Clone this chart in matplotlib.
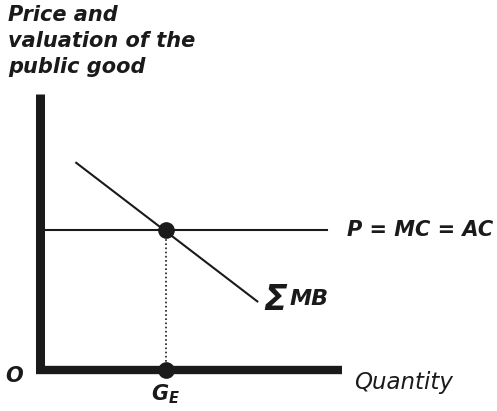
import matplotlib
matplotlib.use('Agg')
import matplotlib.pyplot as plt

plt.rcParams['mathtext.fontset'] = 'dejavusans'

# economic values (arbitrary units)
price = 5.0            # P = MC = AC
g_e = 4.0              # equilibrium quantity of public good
mb_x = [1.15, 6.9]     # sum of marginal benefits (demand)
mb_y = [7.4, 2.45]
price_line_end = 9.1
x_axis_end = 9.6
y_axis_end = 9.85

fig = plt.figure(figsize=(4.97, 4.11), dpi=100)
ax = fig.add_axes([0, 0, 1, 1])
ax.set_xlim(-1.27, 14.51)
ax.set_ylim(-1.464, 13.214)
ax.axis('off')

ink = '#1a1a1a'
fs = 15

# axes drawn as thick lines
ax.plot([0, 0], [0, y_axis_end], color=ink, lw=6.5, solid_capstyle='butt')
ax.plot([-0.14, x_axis_end], [0, 0], color=ink, lw=6.0, solid_capstyle='butt')

# price line and demand curve
ax.plot([0, price_line_end], [price, price], color=ink, lw=1.5)
ax.plot(mb_x, mb_y, color=ink, lw=1.5)

# dotted drop line and points
ax.plot([g_e, g_e], [0, price], color=ink, lw=1.2, ls=(0, (1, 1.5)))
ax.plot([g_e, g_e], [price, 0], 'o', color=ink, ms=11)

ax.text(-1.02, 13.05, 'Price and\nvaluation of the\npublic good', fontsize=fs,
        fontweight='bold', fontstyle='italic', va='top', ha='left', color=ink,
        linespacing=1.38)
ax.text(9.75, price, 'P = MC = AC', fontsize=fs, fontweight='bold',
        fontstyle='italic', va='center', ha='left', color=ink)
ax.text(7.1, 2.5, 'Σ', fontsize=fs + 10, fontweight='bold',
        fontstyle='italic', va='center', ha='left', color=ink)
ax.text(7.92, 2.55, 'MB', fontsize=fs + 1, fontweight='bold',
        fontstyle='italic', va='center', ha='left', color=ink)
ax.text(-0.55, -0.2, 'O', fontsize=fs, fontweight='bold', fontstyle='italic',
        va='center', ha='right', color=ink)
ax.text(9.97, -0.45, 'Quantity', fontsize=fs + 1.5, fontstyle='italic',
        va='center', ha='left', color=ink)
ax.text(g_e, -0.85, r'$\mathbfit{G}_{\mathbfit{E}}$', fontsize=fs,
        va='center', ha='center', color=ink)

plt.savefig('out.png', dpi=100)
